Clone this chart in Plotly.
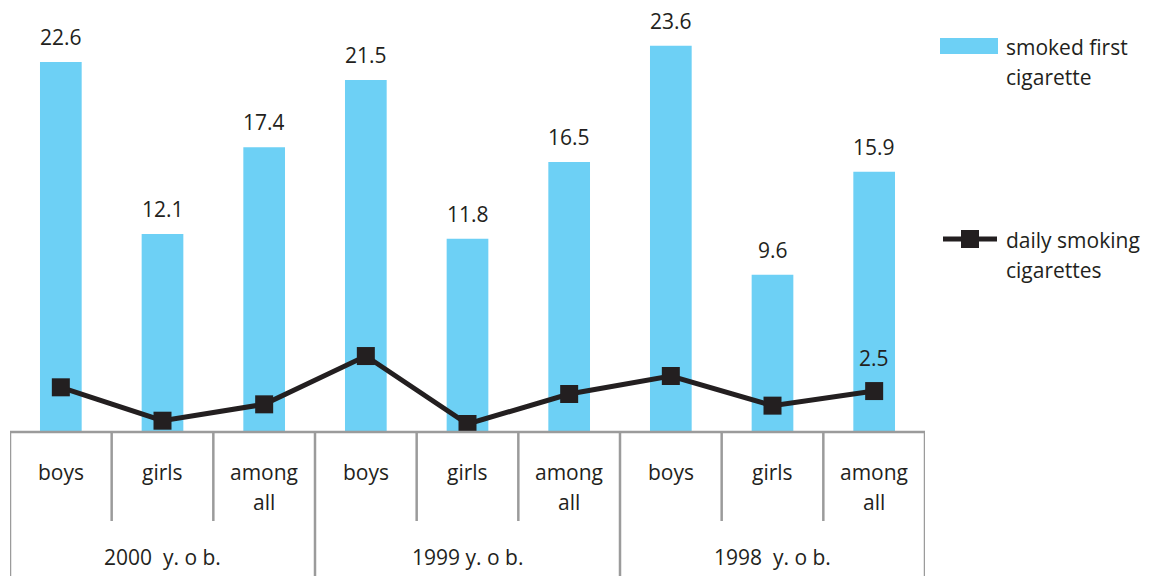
import plotly.graph_objects as go

# ---- data ----
groups = ["2000\u00a0\u00a0y. o b.", "1999 y. o b.", "1998\u00a0\u00a0y. o b."]
subcats = ["boys", "girls", "among<br>all"]
first_cig = [22.6, 12.1, 17.4, 21.5, 11.8, 16.5, 23.6, 9.6, 15.9]
daily_smoke = [2.73, 0.69, 1.69, 4.64, 0.49, 2.32, 3.42, 1.61, 2.5]
daily_labels = ["", "", "", "", "", "", "", "", "2.5"]
series_names = ["smoked first<br>cigarette", "daily smoking<br>cigarettes"]

BAR_COLOR = "#6DD0F5"
LINE_COLOR = "#231F20"
GRID = "#9B9B9B"
FONT = "Open Sans"
FS = 21
LINE_GAP = 30               # px between text lines

OFF = 8                     # browser body margin
W, H = 1150 - OFF, 576 - OFF
TOP, BOTTOM_PX = 10, 432    # page pixels: plot area top / baseline
LEFT, RIGHT = 10, 925
PH = BOTTOM_PX - TOP
PW = RIGHT - LEFT
PX_PER_UNIT = 16.37


def py(px):
    """page pixel y -> paper y"""
    return (BOTTOM_PX - px) / PH


def pxx(px):
    """page pixel x -> paper x"""
    return (px - LEFT) / PW


def tfont():
    return dict(family=FONT, size=FS, color=LINE_COLOR)


n = len(first_cig)
xs = list(range(n))

fig = go.Figure()
fig.add_trace(go.Bar(x=xs, y=first_cig, width=0.41, marker_color=BAR_COLOR,
                     marker_line_width=0, showlegend=False, name="smoked first cigarette"))
fig.add_trace(go.Scatter(x=xs, y=daily_smoke, mode="lines+markers", showlegend=False,
                         line=dict(color=LINE_COLOR, width=5),
                         marker=dict(symbol="square", size=18, color=LINE_COLOR),
                         name="daily smoking cigarettes"))

ann = []
for i, v in enumerate(first_cig):
    ann.append(dict(x=i, y=v, xref="x", yref="y", text=f"{v:.1f}", showarrow=False,
                    yanchor="middle", yshift=25, height=20, font=tfont()))
for i, (v, t) in enumerate(zip(daily_smoke, daily_labels)):
    if t:
        ann.append(dict(x=i, y=v, xref="x", yref="y", text=t, showarrow=False,
                        yanchor="middle", yshift=33, height=20, font=tfont()))

shapes = []
shapes.append(dict(type="line", xref="x", yref="paper", x0=-0.5, x1=n - 0.5, y0=0, y1=0,
                   line=dict(color=GRID, width=2.5)))
for k in range(n + 1):
    major = (k % 3 == 0)
    shapes.append(dict(type="line", xref="x", yref="paper", x0=k - 0.5, x1=k - 0.5,
                       y0=0, y1=py(580 if major else 521),
                       line=dict(color=GRID, width=2.5)))

for i in range(n):
    for j, part in enumerate(subcats[i % 3].split("<br>")):
        ann.append(dict(x=i, y=py(472 + LINE_GAP * j), xref="x", yref="paper", text=part,
                        showarrow=False, yanchor="middle", font=tfont()))
for g, name in enumerate(groups):
    ann.append(dict(x=g * 3 + 1, y=py(557), xref="x", yref="paper", text=name, showarrow=False,
                    yanchor="middle", font=tfont()))

# manual legend
shapes.append(dict(type="rect", xref="paper", yref="paper", x0=pxx(940), x1=pxx(998),
                   y0=py(54), y1=py(38), fillcolor=BAR_COLOR, line=dict(width=0)))
shapes.append(dict(type="line", xref="paper", yref="paper", x0=pxx(943), x1=pxx(997),
                   y0=py(239), y1=py(239), line=dict(color=LINE_COLOR, width=5)))
shapes.append(dict(type="rect", xref="paper", yref="paper", x0=pxx(961), x1=pxx(979),
                   y0=py(248), y1=py(230), fillcolor=LINE_COLOR, line=dict(width=0)))
for s, y0 in zip(series_names, [47, 240]):
    for j, part in enumerate(s.split("<br>")):
        ann.append(dict(x=pxx(1004), y=py(y0 + LINE_GAP * j), xref="paper", yref="paper",
                        text=part, showarrow=False, xanchor="left", yanchor="middle",
                        align="left", font=tfont()))

fig.update_layout(
    width=W, height=H,
    margin=dict(l=LEFT - OFF, r=W - (RIGHT - OFF), t=TOP - OFF, b=H - (BOTTOM_PX - OFF)),
    plot_bgcolor="white", paper_bgcolor="white",
    xaxis=dict(range=[-0.5, n - 0.5], visible=False, fixedrange=True),
    yaxis=dict(range=[0, PH / PX_PER_UNIT], visible=False, fixedrange=True),
    annotations=ann, shapes=shapes, showlegend=False,
    font=dict(family=FONT, color=LINE_COLOR),
)

fig.write_html("out.html")
